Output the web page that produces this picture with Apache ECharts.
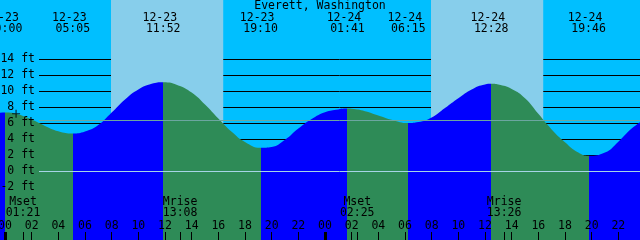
<!DOCTYPE html>
<html><head><meta charset="utf-8">
<script src="https://cdn.jsdelivr.net/npm/echarts@6/dist/echarts.min.js"></script>
<style>html,body{margin:0;padding:0;background:#00BFFF}#c{width:640px;height:240px}</style>
</head><body><div id="c"></div>
<script>
// ---- data ----
const chartTitle = 'Everett, Washington';
const firstDate = '12-23';
// tide height samples (hours since 12-23 00:00, feet)
const sampleHours = [-1, 0, 1, 2, 3, 4, 5.083, 6, 7, 8, 9, 10, 11, 11.867, 13, 14, 15, 16, 17, 18, 19.167,
  20, 21, 22, 23, 24, 25, 25.683, 26, 27, 28, 29, 30.25, 31, 32, 33, 34, 35, 36, 36.467,
  37, 38, 39, 40, 41, 42, 43, 43.767, 45, 46, 47, 48];
const sampleFeet = [7.2, 7.3, 7.06, 6.43, 5.64, 4.98, 4.7, 4.95, 5.75, 7.3, 8.95, 10.2, 10.9, 11.1, 10.7, 9.8, 8.3, 6.55, 4.9, 3.62, 2.9,
  3.0, 3.9, 5.3, 6.5, 7.35, 7.7, 7.8, 7.77, 7.48, 6.95, 6.42, 6.0, 6.12, 6.7, 7.88, 9.1, 10.2, 10.82, 10.9,
  10.8, 10.25, 9.1, 7.15, 5.2, 3.6, 2.3, 1.9, 2.3, 3.65, 5.3, 6.5];
// high / low tide events
const tideDates = ['12-23', '12-23', '12-23', '12-23', '12-24', '12-24', '12-24', '12-24'];
const tideTimes = ['00:00', '05:05', '11:52', '19:10', '01:41', '06:15', '12:28', '19:46'];
const tideKinds = ['H', 'L', 'H', 'L', 'H', 'L', 'H', 'L'];
// sun
const sunDates = ['12-23', '12-24'];
const sunriseTimes = ['07:57', '07:57'];
const sunsetTimes = ['16:22', '16:22'];
// moon
const moonDates = ['12-23', '12-23', '12-24', '12-24'];
const moonKinds = ['Mset', 'Mrise', 'Mset', 'Mrise'];
const moonTimes = ['01:21', '13:08', '02:25', '13:26'];
// axes
const hourTicks = [0, 2, 4, 6, 8, 10, 12, 14, 16, 18, 20, 22, 24, 26, 28, 30, 32, 34, 36, 38, 40, 42, 44, 46];
const midnightTicks = [0, 24];
const depthMin = -2, depthMax = 14, depthStep = 2;
const datumLevel = 0;
const mslLevel = 6.35;
const markerPoint = [0.83, 7.15];

// ---- helpers ----
function toHours(date, time) {
  const day = parseInt(date.split('-')[1], 10) - parseInt(firstDate.split('-')[1], 10);
  const p = time.split(':');
  return day * 24 + parseInt(p[0], 10) + parseInt(p[1], 10) / 60;
}
const pad2 = n => (n < 10 ? '0' : '') + n;
const FONT = 'DejaVu Sans Mono';
const FS = 11.5;
const FLOOD = '#0000FF', EBB = '#2E8B57', DAY = '#87CEEB', NIGHT = '#00BFFF';

const tideHours = tideTimes.map((t, i) => toHours(tideDates[i], t));
const moonHours = moonTimes.map((t, i) => toHours(moonDates[i], t));
const dayAreas = sunDates.map((d, i) => [{ xAxis: toHours(d, sunriseTimes[i]) }, { xAxis: toHours(d, sunsetTimes[i]) }]);

const pieces = [{ lt: tideHours[0], color: tideKinds[0] === 'H' ? FLOOD : EBB }];
tideHours.forEach((h, i) => {
  const p = { gte: h, color: tideKinds[i] === 'H' ? EBB : FLOOD };
  if (i + 1 < tideHours.length) p.lt = tideHours[i + 1];
  pieces.push(p);
});

function findIdx(arr, v) {
  for (let i = 0; i < arr.length; i++) if (Math.abs(arr[i] - v) < 1e-6) return i;
  return -1;
}

const X0 = -0.375, X1 = 47.625;
const baseX = { type: 'value', gridIndex: 0, min: X0, max: X1, z: 10,
  axisLine: { show: false, onZero: false }, splitLine: { show: false } };

const option = {
  animation: false,
  backgroundColor: NIGHT,
  title: { text: chartTitle, left: 'center', top: 0, padding: 0,
    textStyle: { fontFamily: FONT, fontSize: FS, fontWeight: 'normal', color: '#000', lineHeight: 12 } },
  grid: [
    { left: 0, right: 0, top: 0, bottom: 0, outerBoundsMode: 'none', containLabel: false },
    { left: 39, right: 0, top: 59, bottom: 53, outerBoundsMode: 'none', containLabel: false }
  ],
  xAxis: [
    Object.assign({}, baseX, { position: 'bottom',
      axisTick: { show: true, inside: true, length: 8, customValues: hourTicks, lineStyle: { color: '#000', width: 1 } },
      axisLabel: { show: true, inside: true, margin: 8, customValues: hourTicks,
        formatter: v => pad2(Math.round(v) % 24),
        fontFamily: FONT, fontSize: FS, color: '#000', lineHeight: 12 } }),
    Object.assign({}, baseX, { position: 'bottom',
      axisTick: { show: true, inside: true, length: 8, customValues: midnightTicks, lineStyle: { color: '#000', width: 3 } },
      axisLabel: { show: false } }),
    Object.assign({}, baseX, { position: 'bottom',
      axisTick: { show: true, inside: true, length: 8, customValues: moonHours, lineStyle: { color: '#000', width: 1 } },
      axisLabel: { show: true, inside: true, margin: 21, customValues: moonHours,
        formatter: v => { const i = findIdx(moonHours, v); return i < 0 ? '' : moonKinds[i] + '\n' + moonTimes[i]; },
        fontFamily: FONT, fontSize: FS, color: '#000', lineHeight: 11 } }),
    Object.assign({}, baseX, { position: 'top',
      axisTick: { show: false },
      axisLabel: { show: true, inside: true, margin: 12, customValues: tideHours,
        formatter: v => { const i = findIdx(tideHours, v); return i < 0 ? '' : tideDates[i] + ' \n' + tideTimes[i]; },
        fontFamily: FONT, fontSize: FS, color: '#000', lineHeight: 11.5 } }),
    { type: 'value', gridIndex: 1, min: 0, max: 1, show: false, axisLine: { show: false, onZero: false } }
  ],
  yAxis: [
    { type: 'value', gridIndex: 0, min: -8.625, max: 21.375, show: false, axisLine: { onZero: false } },
    { type: 'value', gridIndex: 1, min: depthMin, max: depthMax, interval: depthStep, position: 'left', z: 1,
      axisLine: { show: false, onZero: false }, axisTick: { show: false }, axisLabel: { show: false },
      splitLine: { show: true, lineStyle: { color: '#000', width: 1, type: 'solid' } } },
    { type: 'value', gridIndex: 1, min: depthMin, max: depthMax, interval: depthStep, position: 'left', z: 10,
      axisLine: { show: false, onZero: false }, axisTick: { show: false }, splitLine: { show: false },
      axisLabel: { show: true, margin: 4, formatter: '{value} ft', fontFamily: FONT, fontSize: FS, color: '#000' } }
  ],
  visualMap: [{ type: 'piecewise', show: false, seriesIndex: 1, dimension: 0, pieces: pieces }],
  series: [
    { type: 'line', xAxisIndex: 0, yAxisIndex: 0, data: [], z: 0, silent: true,
      markArea: { silent: true, itemStyle: { color: DAY, opacity: 1 }, data: dayAreas } },
    { type: 'line', xAxisIndex: 0, yAxisIndex: 0, z: 2, silent: true,
      data: sampleHours.map((h, i) => [h, sampleFeet[i]]),
      smooth: 0.5, symbol: 'none',
      lineStyle: { width: 0 },
      areaStyle: { opacity: 1, origin: 'start' } },
    { type: 'line', xAxisIndex: 4, yAxisIndex: 1, data: [], z: 3, silent: true,
      markLine: { silent: true, symbol: 'none', label: { show: false },
        lineStyle: { type: 'solid', width: 1 },
        data: [
          { yAxis: datumLevel, lineStyle: { color: '#a6d4e6', type: 'solid', width: 1 } },
          { yAxis: mslLevel, lineStyle: { color: '#6ca6a0', type: 'solid', width: 1 } }
        ] } },
    { type: 'scatter', xAxisIndex: 0, yAxisIndex: 0, z: 12, silent: true,
      data: [markerPoint], symbol: 'path://M0,3H7V4H0Z M3,0H4V7H3Z', symbolSize: [8, 8],
      itemStyle: { color: '#000' } }
  ]
};
const chart = echarts.init(document.getElementById('c'), null, { renderer: 'canvas' });
chart.setOption(option);
</script></body></html>
